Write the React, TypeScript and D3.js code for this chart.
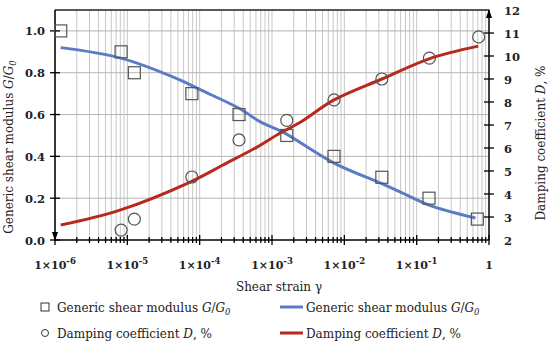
import * as d3 from "d3";

// G/G0 test points (squares)
const gammaG = [1.2e-6, 8.2e-6, 1.25e-5, 7.8e-5, 3.5e-4, 1.6e-3, 7.2e-3, 3.3e-2, 0.148, 0.69];
const modG = [1.0, 0.9, 0.8, 0.7, 0.6, 0.5, 0.4, 0.3, 0.2, 0.1];

// damping test points (circles)
const gammaD = [8.2e-6, 1.25e-5, 7.8e-5, 3.5e-4, 1.6e-3, 7.2e-3, 3.3e-2, 0.15, 0.72];
const dampD = [2.43, 2.91, 4.74, 6.35, 7.2, 8.09, 9.0, 9.91, 10.83];

// fitted curves
const fitGammaG = [1.2e-6, 8.1e-6, 5.4e-5, 1.0e-4, 3.5e-4, 6.9e-4, 1.4e-3, 7.2e-3, 3.3e-2, 5.9e-2, 0.148, 0.65];
const fitG = [0.92, 0.87, 0.765, 0.72, 0.63, 0.565, 0.517, 0.368, 0.27, 0.23, 0.167, 0.105];
const fitGammaD = [1.2e-6, 7.9e-6, 7.4e-5, 2.1e-4, 6.2e-4, 1.3e-3, 2.5e-3, 7.2e-3, 3.3e-2, 0.155, 0.71];
const fitD = [2.65, 3.3, 4.52, 5.26, 6.04, 6.65, 7.13, 8.09, 9.0, 9.9, 10.43];

const xExps = [-6, -5, -4, -3, -2, -1, 0];
const leftTicks = [0, 0.2, 0.4, 0.6, 0.8, 1.0];
const rightTicks = [2, 3, 4, 5, 6, 7, 8, 9, 10, 11, 12];

const M = { top: 10, right: 61, bottom: 106, left: 55 };
const W = 550;
const H = 346;
const BLUE = "#5B7CC4";
const RED = "#B8281C";
const FONT = "DejaVu Serif";
const INK = "#222";

export default function App() {
  const x = d3.scaleLog().domain([1e-6, 1]).range([M.left, W - M.right]);
  const yL = d3.scaleLinear().domain([0, 1.1]).range([H - M.bottom, M.top]);
  const yR = d3.scaleLinear().domain([2, 12]).range([H - M.bottom, M.top]);
  const y0 = H - M.bottom;
  const x1 = W - M.right;

  const minor: number[] = [];
  for (let e = -6; e < 0; e++) for (let k = 1; k <= 9; k++) minor.push(k * Math.pow(10, e));

  const lineG = d3
    .line<number>()
    .x((d, i) => x(fitGammaG[i]))
    .y((d) => yL(d))
    .curve(d3.curveCatmullRom);
  const lineD = d3
    .line<number>()
    .x((d, i) => x(fitGammaD[i]))
    .y((d) => yR(d))
    .curve(d3.curveCatmullRom);

  const sub0 = (
    <>
      <tspan fontStyle="italic">G</tspan>/<tspan fontStyle="italic">G</tspan>
      <tspan fontStyle="italic" fontSize={8.5} dy={3}>
        0
      </tspan>
    </>
  );

  return (
    <svg
      width={W}
      height={H}
      style={{ position: "absolute", left: 0, top: 0, background: "#fff" }}
    >
      <g fontFamily={FONT} fill={INK}>
      {/* grid */}
      {minor.map((v, i) => (
        <line key={"vg" + i} x1={x(v)} x2={x(v)} y1={M.top} y2={y0} stroke="#c8c8c8" strokeWidth={1} />
      ))}
      {leftTicks.slice(1).map((v) => (
        <line key={"hg" + v} x1={M.left} x2={x1} y1={yL(v)} y2={yL(v)} stroke="#b4b4b4" strokeWidth={1} />
      ))}
      <line x1={M.left} x2={x1} y1={M.top} y2={M.top} stroke="#222" strokeWidth={1.5} />

      {/* axes */}
      <line x1={M.left} x2={x1} y1={y0} y2={y0} stroke="#000" strokeWidth={1.5} />
      <line x1={M.left} x2={M.left} y1={M.top} y2={y0 + 1} stroke="#000" strokeWidth={1.5} />
      <path d={`M${M.left - 3},${y0 - 8} L${M.left},${y0 + 1} L${M.left + 3},${y0 - 8}`} fill="#000" />
      <line x1={x1} x2={x1} y1={M.top} y2={y0} stroke="#000" strokeWidth={1.5} />
      <path d={`M${x1 - 3},${M.top + 8} L${x1},${M.top - 1} L${x1 + 3},${M.top + 8}`} fill="#000" />

      {minor.concat([1]).map((v, i) => {
        const major = Math.abs(Math.log10(v) - Math.round(Math.log10(v))) < 1e-9;
        return (
          <line
            key={"xt" + i}
            x1={x(v)}
            x2={x(v)}
            y1={y0 - (major ? 5 : 3)}
            y2={y0 + (major ? 5 : 3)}
            stroke="#000"
            strokeWidth={1.3}
          />
        );
      })}
      {xExps.map((e) => (
        <text key={"xl" + e} x={x(Math.pow(10, e))} y={y0 + 29} textAnchor="middle" fontSize={11} fontWeight="bold">
          {e === 0 ? (
            "1"
          ) : (
            <>
              <tspan>1×10</tspan>
              <tspan dy={-5} fontSize={8.5}>
                {e}
              </tspan>
            </>
          )}
        </text>
      ))}

      {leftTicks.map((v) => (
        <g key={"yl" + v}>
          <line x1={M.left - 5} x2={M.left + 5} y1={yL(v)} y2={yL(v)} stroke="#000" strokeWidth={1.3} />
          <text x={M.left - 10} y={yL(v) + 4.5} textAnchor="end" fontSize={11.5} fontWeight="bold">
            {v.toFixed(1)}
          </text>
        </g>
      ))}
      {rightTicks.map((v) => (
        <g key={"yr" + v}>
          {v > 2 && v < 12 && (
            <line x1={x1 - 5} x2={x1 + 5} y1={yR(v)} y2={yR(v)} stroke="#000" strokeWidth={1.3} />
          )}
          <text x={x1 + 15} y={yR(v) + 4.5} textAnchor="start" fontSize={11.5} fontWeight="bold">
            {v}
          </text>
        </g>
      ))}

      {/* titles */}
      <text x={279} y={291} textAnchor="middle" fontSize={12}>
        Shear strain γ
      </text>
      <text transform={`translate(13,147) rotate(-90)`} textAnchor="middle" fontSize={12}>
        Generic shear modulus {sub0}
      </text>
      <text transform={`translate(545,143) rotate(-90)`} textAnchor="middle" fontSize={12}>
        Damping coefficient <tspan fontStyle="italic">D</tspan>, %
      </text>

      {/* curves */}
      <path d={lineG(fitG) ?? ""} fill="none" stroke={BLUE} strokeWidth={3} />
      <path d={lineD(fitD) ?? ""} fill="none" stroke={RED} strokeWidth={3} />

      {/* points */}
      {modG.map((v, i) => (
        <rect
          key={"sq" + i}
          x={x(gammaG[i]) - 6}
          y={yL(v) - 6}
          width={12}
          height={12}
          fill="none"
          stroke="#555"
          strokeWidth={1.2}
        />
      ))}
      {dampD.map((v, i) => (
        <circle key={"ci" + i} cx={x(gammaD[i])} cy={yR(v)} r={6} fill="none" stroke="#555" strokeWidth={1.2} />
      ))}

      {/* legend */}
      <g fontSize={12}>
        <rect x={41} y={303} width={8} height={8} fill="none" stroke="#333" strokeWidth={1} />
        <text x={57} y={312}>
          Generic shear modulus {sub0}
        </text>
        <circle cx={45} cy={333} r={3.5} fill="none" stroke="#333" strokeWidth={1} />
        <text x={57} y={338}>
          Damping coefficient <tspan fontStyle="italic">D</tspan>, %
        </text>
        <line x1={280} x2={303} y1={307} y2={307} stroke={BLUE} strokeWidth={3} />
        <text x={306} y={312}>
          Generic shear modulus {sub0}
        </text>
        <line x1={280} x2={303} y1={333} y2={333} stroke={RED} strokeWidth={3} />
        <text x={306} y={338}>
          Damping coefficient <tspan fontStyle="italic">D</tspan>, %
        </text>
      </g>
      </g>
    </svg>
  );
}
